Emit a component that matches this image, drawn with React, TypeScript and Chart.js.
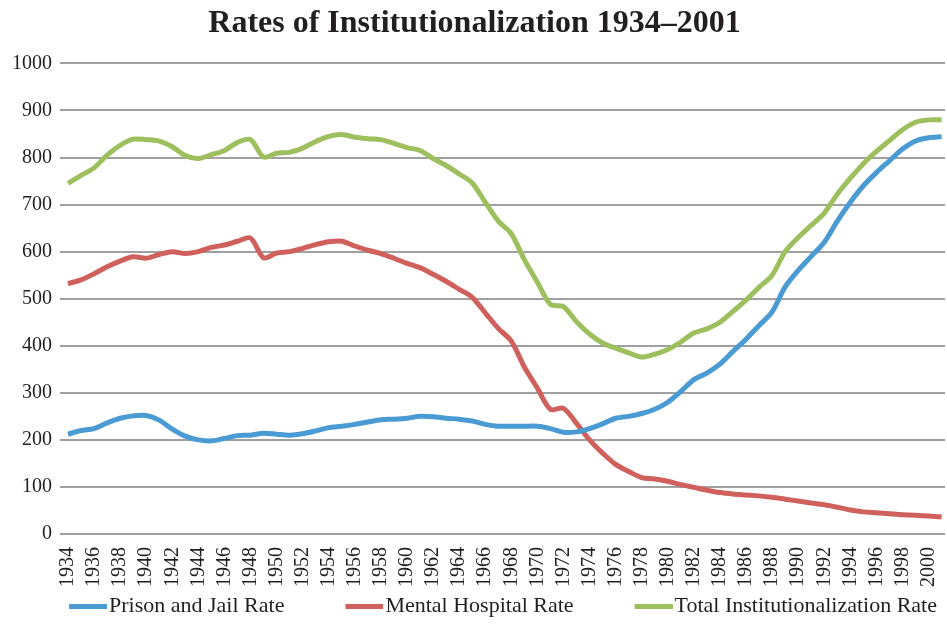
import React, { useEffect, useRef } from "react";
import { Chart, registerables } from "chart.js";

Chart.register(...registerables);

const years: number[] = [];
for (let y = 1934; y <= 2001; y++) years.push(y);

const prisonRate = [
  212, 220, 224, 236, 246, 251, 252, 242, 223, 208, 200, 198, 203, 209, 210, 214, 212, 210, 213, 219,
  226, 229, 233, 238, 243, 244, 246, 250, 249, 246, 244, 240, 233, 229, 229, 229, 229, 224, 216, 217,
  224, 234, 246, 250, 256, 265, 280, 303, 328, 342, 361, 388, 414, 443, 472, 525, 560, 590, 620, 665,
  705, 740, 768, 793, 818, 835, 842, 844,
];

const mentalRate = [
  532, 540, 553, 568, 580, 589, 586, 594, 600, 596, 600, 609, 614, 622, 629, 587, 597, 600, 607, 615,
  621, 622, 612, 603, 596, 586, 575, 566, 552, 537, 520, 503, 470, 437, 410, 355, 310, 265, 267, 235,
  200, 172, 148, 133, 120, 117, 112, 105, 99, 93, 88, 85, 83, 81, 78, 74, 70, 66, 62, 57,
  51, 47, 45, 43, 41, 40, 38, 36,
];

const totalRate = [
  745, 762, 778, 805, 826, 839, 838, 835, 823, 804, 798, 806, 815, 832, 838, 801, 809, 811, 820, 834,
  845, 849, 843, 840, 838, 830, 821, 815, 798, 783, 765, 746, 705, 665, 638, 583, 535, 488, 483, 451,
  425, 406, 395, 385, 376, 382, 392, 408, 427, 436, 450, 473, 497, 524, 550, 600, 630, 656, 682, 722,
  756, 787, 813, 836, 859, 875, 880, 880,
];

const seriesNames = ["Prison and Jail Rate", "Mental Hospital Rate", "Total Institutionalization Rate"];
const seriesColors = ["#4a9ad4", "#d0605c", "#9dbf5d"];
const titleText = "Rates of Institutionalization 1934\u20132001";

const FONT = "'Liberation Serif', 'Times New Roman', serif";

// legend marker: a short line with leading blank space (gives item spacing)
const MARK_GAP = 66;
const MARK_LEN = 38;
const MARK_W = MARK_GAP + MARK_LEN;
const MARK_OVER = 18;

function makeMarker(color: string): HTMLCanvasElement {
  const c = document.createElement("canvas");
  c.width = MARK_W;
  c.height = 5;
  const g = c.getContext("2d");
  if (g) {
    g.fillStyle = color;
    g.fillRect(MARK_GAP, 0, MARK_LEN, 5);
  }
  return c;
}

export default function App() {
  const ref = useRef<HTMLCanvasElement | null>(null);

  useEffect(() => {
    document.body.style.margin = "0";
    const canvas = ref.current;
    if (!canvas) return;
    const allSeries = [prisonRate, mentalRate, totalRate];
    const markers = seriesColors.map(makeMarker);
    const chart = new Chart(canvas, {
      type: "line",
      data: {
        datasets: allSeries.map((vals, i) => ({
          label: seriesNames[i],
          data: vals.map((v, j) => ({ x: years[j], y: v })),
          borderColor: seriesColors[i],
          backgroundColor: seriesColors[i],
          borderWidth: 5,
          pointRadius: 0,
          tension: 0.3,
          fill: false,
        })),
      },
      options: {
        animation: false,
        responsive: false,
        maintainAspectRatio: false,
        layout: { padding: { left: 4, right: 2, top: 0, bottom: -3 } },
        plugins: {
          title: {
            display: true,
            text: titleText,
            color: "#231f20",
            font: { family: FONT, size: 32, weight: "bold" },
            padding: { top: 5, bottom: 20 },
          },
          legend: {
            position: "bottom",
            labels: {
              color: "#231f20",
              font: { family: FONT, size: 22 },
              usePointStyle: true,
              pointStyleWidth: MARK_W - MARK_OVER,
              padding: 4,
              generateLabels: (ch: any) =>
                Chart.defaults.plugins.legend.labels
                  .generateLabels(ch)
                  .map((l: any, i: number) => ({ ...l, lineWidth: 0, pointStyle: markers[i] })),
            },
          },
          tooltip: { enabled: false },
        },
        scales: {
          x: {
            type: "linear",
            min: 1933.39,
            max: 2001.26,
            grid: { display: false },
            border: { display: false },
            afterFit: (s: any) => {
              s.height = 57;
              s.paddingLeft = 0;
              s.paddingRight = 0;
            },
            ticks: {
              stepSize: 2,
              includeBounds: false,
              autoSkip: false,
              minRotation: 90,
              maxRotation: 90,
              color: "#231f20",
              font: { family: FONT, size: 20 },
              padding: 5,
              callback: (v: any) => String(v),
            },
          },
          y: {
            min: 0,
            max: 1000,
            afterFit: (s: any) => {
              s.width = 56;
            },
            grid: { color: "#a0a0a0", lineWidth: 2, drawTicks: false },
            border: { display: false },
            ticks: {
              stepSize: 100,
              color: "#231f20",
              font: { family: FONT, size: 20 },
              padding: 8,
              callback: (v: any) => String(v),
            },
          },
        },
      },
    });
    return () => chart.destroy();
  }, []);

  return (
    <div style={{ width: 947, height: 624, background: "#fff" }}>
      <canvas ref={ref} width={947} height={624} style={{ display: "block" }} />
    </div>
  );
}
